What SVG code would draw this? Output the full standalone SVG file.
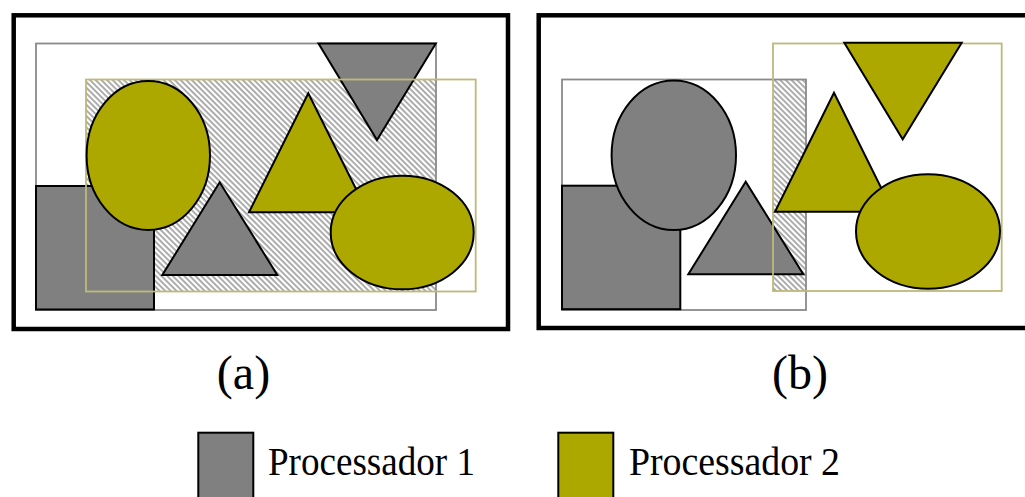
<svg xmlns="http://www.w3.org/2000/svg" width="1025" height="497" viewBox="0 0 1025 497">
  <defs>
    <!-- diagonal hatching for the shared (overlap) region -->
    <pattern id="hatch" width="4" height="4" patternUnits="userSpaceOnUse" patternTransform="rotate(45)">
      <rect width="4" height="4" fill="#ffffff"/>
      <rect width="4" height="1.8" fill="#a4a4a4"/>
    </pattern>
  </defs>
  <style>
    .frame { fill: none; stroke: #000; stroke-width: 4.5; }
    .bound1 { fill: none; stroke: #8a8a8a; stroke-width: 1.8; }
    .bound2 { fill: none; stroke: #bdb97a; stroke-width: 1.8; }
    .p1 { fill: #808080; stroke: #000; stroke-width: 2; }
    .p2 { fill: #aca800; stroke: #000; stroke-width: 2; }
    .overlap { fill: url(#hatch); stroke: none; }
    .label { font-family: "Liberation Serif", "Times New Roman", serif; fill: #000; }
  </style>

  <rect width="1025" height="497" fill="#ffffff"/>

  <!-- panel (a) -->
  <g id="panel-a">
    <rect class="frame" x="13.7" y="15.3" width="494.3" height="313.7"/>
    <rect class="overlap" x="86" y="79.5" width="350" height="212"/>
    <rect class="bound1" x="36" y="43.5" width="400" height="266.5"/>
    <g id="a-square-p1"><rect class="p1" x="36" y="186" width="118" height="123.5"/></g>
    <g id="a-triangle-p1"><polygon class="p1" points="219.7,182.3 162.3,275 277.3,275"/></g>
    <g id="a-inv-triangle-p1"><polygon class="p1" points="318.5,43.5 435.8,43.5 377,140"/></g>
    <rect class="bound2" x="86" y="79.5" width="389.7" height="212"/>
    <g id="a-ellipse-p2"><ellipse class="p2" cx="148.3" cy="155.5" rx="61.7" ry="74.5"/></g>
    <g id="a-triangle-p2"><polygon class="p2" points="308.3,93.3 249,212.3 367.6,212.3"/></g>
    <g id="a-ellipse2-p2"><ellipse class="p2" cx="402.2" cy="232.5" rx="71.5" ry="56.8"/></g>
  </g>

  <!-- panel (b) -->
  <g id="panel-b">
    <rect class="frame" x="538.7" y="15.3" width="500" height="312.7"/>
    <rect class="overlap" x="773" y="79.5" width="33" height="211.5"/>
    <rect class="bound1" x="562" y="79.5" width="244" height="230.5"/>
    <g id="b-square-p1"><rect class="p1" x="562" y="185.7" width="118.3" height="123.5"/></g>
    <g id="b-ellipse-p1"><ellipse class="p1" cx="673.8" cy="155.2" rx="62.2" ry="74.8"/></g>
    <g id="b-triangle-p1"><polygon class="p1" points="745.7,181.7 688.3,274.3 803.3,274.3"/></g>
    <rect class="bound2" x="773" y="43.5" width="228.7" height="247.5"/>
    <g id="b-triangle-p2"><polygon class="p2" points="834,92.7 775,211.7 893,211.7"/></g>
    <g id="b-inv-triangle-p2"><polygon class="p2" points="844.3,42.8 961.7,42.8 902.7,139.3"/></g>
    <g id="b-ellipse2-p2"><ellipse class="p2" cx="928" cy="231.5" rx="72" ry="57.2"/></g>
  </g>

  <!-- captions -->
  <g id="caption-a"><text class="label" x="243.5" y="389" font-size="48" text-anchor="middle">(a)</text></g>
  <g id="caption-b"><text class="label" x="800" y="389" font-size="48" text-anchor="middle">(b)</text></g>

  <!-- legend -->
  <g id="legend-p1">
    <rect class="p1" x="198.3" y="432.7" width="55" height="70"/>
    <text class="label" x="268" y="475" font-size="40" textLength="207" lengthAdjust="spacingAndGlyphs">Processador 1</text>
  </g>
  <g id="legend-p2">
    <rect class="p2" x="558.3" y="432.7" width="55" height="70"/>
    <text class="label" x="629" y="475" font-size="40" textLength="211" lengthAdjust="spacingAndGlyphs">Processador 2</text>
  </g>
</svg>
